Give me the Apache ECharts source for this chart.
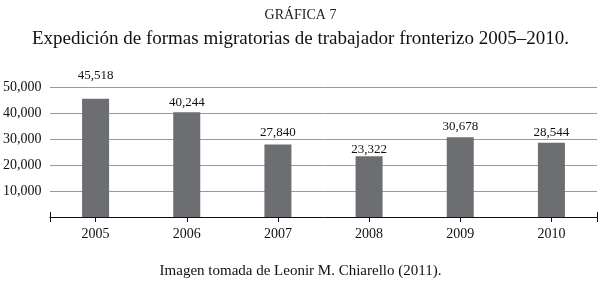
<!DOCTYPE html>
<html>
<head>
<meta charset="utf-8">
<script src="https://cdn.jsdelivr.net/npm/echarts@6/dist/echarts.min.js"></script>
<style>
  html, body { margin: 0; padding: 0; background: #fff; }
  #chart01 { width: 601px; height: 281px; }
</style>
</head>
<body>
<div id="chart01"></div>
<script>
var years = ['2005', '2006', '2007', '2008', '2009', '2010'];
var formas = [45518, 40244, 27840, 23322, 30678, 28544];
var yTicks = [0, 10000, 20000, 30000, 40000, 50000];

// the printed figure places each value label a bit differently above its bar
var labelLift = [17, 3, 6, 0, 4, 4];

var serif = 'Liberation Serif';
var chartDom = document.getElementById('chart01');
var myChart = echarts.init(chartDom);
var option;

function miles(v) {
  return v.toLocaleString('en-US');
}

// extra axis used only to draw the short end ticks of the category axis
function endTicks(inside) {
  return {
    type: 'category',
    data: years,
    position: 'bottom',
    axisLine: { show: false },
    axisLabel: { show: false },
    axisTick: {
      show: true,
      inside: inside,
      length: 5,
      interval: function (i) { return i === 0; },
      lineStyle: { color: '#111' }
    }
  };
}

option = {
    animation: false,
    title: [
      {
        text: 'GRÁFICA 7',
        left: 'center',
        top: 3,
        textStyle: { fontFamily: serif, fontSize: 14, fontWeight: 'normal', color: '#222' }
      },
      {
        text: 'Expedición de formas migratorias de trabajador fronterizo 2005–2010.',
        left: 'center',
        top: 25,
        textStyle: { fontFamily: serif, fontSize: 19, fontWeight: 'normal', color: '#111' }
      },
      {
        text: 'Imagen tomada de Leonir M. Chiarello (2011).',
        left: 'center',
        top: 259,
        textStyle: { fontFamily: serif, fontSize: 15, fontWeight: 'normal', color: '#111' }
      }
    ],
    grid: {
      left: 48,
      right: 4,
      top: 87,
      bottom: 64
    },
    xAxis: [
      {
        type: 'category',
        data: years,
        axisLine: { show: true, lineStyle: { color: '#111', width: 1 } },
        axisTick: { show: true, alignWithLabel: true, length: 5, lineStyle: { color: '#111' } },
        axisLabel: { fontFamily: serif, fontSize: 14, color: '#111', margin: 10 }
      },
      endTicks(true),
      endTicks(false)
    ],
    yAxis: {
      type: 'value',
      min: yTicks[0],
      max: yTicks[yTicks.length - 1],
      interval: yTicks[1] - yTicks[0],
      axisLine: { show: false },
      axisTick: { show: false },
      splitLine: { lineStyle: { color: '#9a9a9a', width: 1 } },
      axisLabel: {
        fontFamily: serif,
        fontSize: 14,
        color: '#111',
        align: 'left',
        margin: 47,
        formatter: function (v) { return v === 0 ? '' : miles(v); }
      }
    },
    series: [
      {
        name: 'Formas migratorias',
        type: 'bar',
        data: formas.map(function (v, i) {
          return { value: v, label: { distance: labelLift[i] } };
        }),
        barWidth: 27,
        itemStyle: { color: '#6d6e71' },
        label: {
          show: true,
          position: 'top',
          fontFamily: serif,
          fontSize: 13,
          color: '#111',
          formatter: function (p) { return miles(p.value); }
        }
      }
    ]
};

option && myChart.setOption(option);
</script>
</body>
</html>
